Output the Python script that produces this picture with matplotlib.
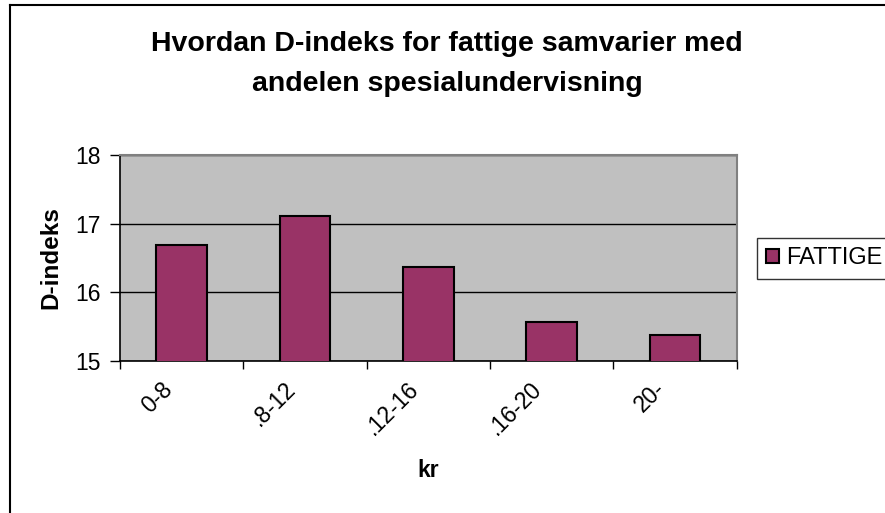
import matplotlib
matplotlib.use("Agg")
import matplotlib.pyplot as plt
import matplotlib.transforms as mtransforms
from matplotlib.lines import Line2D
import numpy as np

plt.rcParams["font.family"] = ["Liberation Sans", "DejaVu Sans"]

CATEGORIES = ["0-8", ".8-12", ".12-16", ".16-20", "20-"]
FATTIGE = [16.69, 17.12, 16.37, 15.57, 15.38]
Y_TICKS = [15, 16, 17, 18]

BAR_COLOR = "#993366"
BG_COLOR = "#C0C0C0"

fig = plt.figure(figsize=(8.85, 5.13), dpi=100)
ax = fig.add_axes([120 / 885, 1 - 360.7 / 513, 616.7 / 885, 205.4 / 513])

x = np.arange(len(CATEGORIES))
ax.bar(x, FATTIGE, width=0.41, bottom=0, color=BAR_COLOR, edgecolor="black",
       linewidth=1.5, label="FATTIGE", zorder=3)

ax.set_facecolor(BG_COLOR)
ax.set_xlim(-0.5, len(CATEGORIES) - 0.5)
ax.set_ylim(15, 18)
ax.set_yticks(Y_TICKS)
ax.grid(axis="y", color="black", linewidth=1.0, zorder=1)

# category labels at centres, tick marks at boundaries
ax.set_xticks(x)
ax.set_xticklabels(CATEGORIES, rotation=45, ha="right", fontsize=16.5)
ax.set_xticks(np.arange(len(CATEGORIES) + 1) - 0.5, minor=True)
ax.tick_params(axis="x", which="major", length=0, pad=12)
ax.tick_params(axis="x", which="minor", length=6, width=1, color="black")
ax.tick_params(axis="y", length=7, width=1, labelsize=16.5, pad=7)
offset = mtransforms.ScaledTranslation(-5 / 100, 0, fig.dpi_scale_trans)
for lbl in ax.get_xticklabels():
    lbl.set_transform(lbl.get_transform() + offset)

for side in ["top", "right"]:
    ax.spines[side].set_color("#808080")
    ax.spines[side].set_linewidth(1.5)
for side in ["left", "bottom"]:
    ax.spines[side].set_color("black")
    ax.spines[side].set_linewidth(1.2)

ax.set_ylabel("D-indeks", fontsize=17.5, fontweight="bold", labelpad=9)
ax.set_xlabel("kr", fontsize=16.5, fontweight="bold", labelpad=14)

fig.text(447 / 885, 1 - 64 / 513,
         "Hvordan D-indeks for fattige samvarier med\nandelen spesialundervisning",
         ha="center", va="center", fontsize=20.5, fontweight="bold", linespacing=1.68)

leg = fig.legend(loc="center left", bbox_to_anchor=(757 / 885, 1 - 258.5 / 513),
                 fontsize=17, frameon=True, fancybox=False, edgecolor="black",
                 handlelength=0.55, handleheight=0.55, handletextpad=0.3,
                 borderpad=0.4, borderaxespad=0)
leg.get_frame().set_linewidth(1.0)

# outer chart border (cut off on the right and bottom)
fig.add_artist(Line2D([10 / 885, 10 / 885], [0, 1 - 5 / 513], color="black",
                      linewidth=1.5, transform=fig.transFigure))
fig.add_artist(Line2D([10 / 885, 1], [1 - 5 / 513, 1 - 5 / 513], color="black",
                      linewidth=1.5, transform=fig.transFigure))

fig.savefig("out.png", dpi=100)
